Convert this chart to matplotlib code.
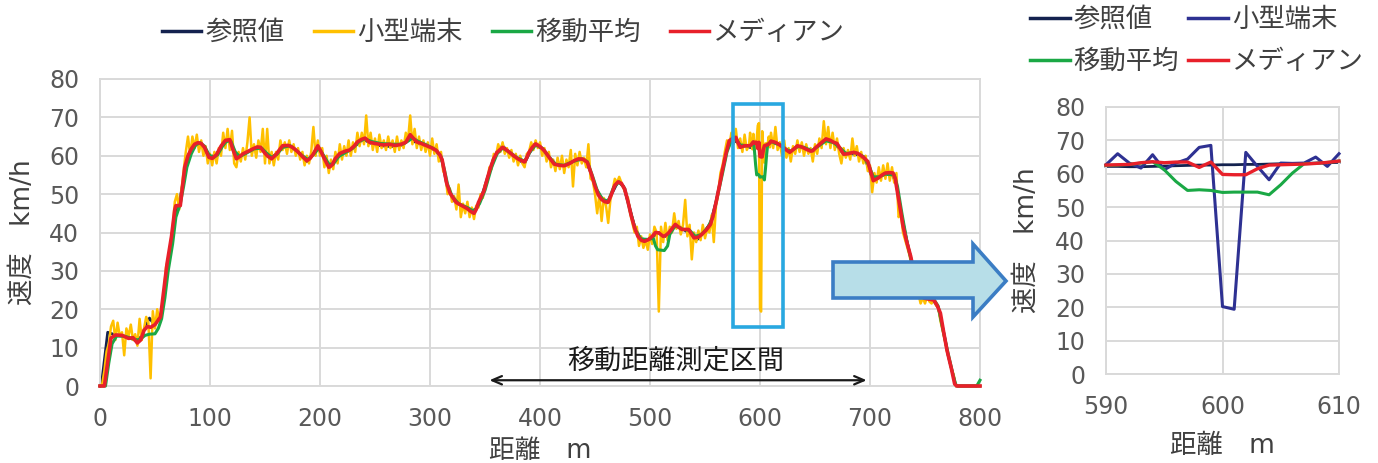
import matplotlib
matplotlib.use("Agg")
import matplotlib.pyplot as plt
import numpy as np
from matplotlib.patches import Polygon, Rectangle
from matplotlib.lines import Line2D

plt.rcParams['font.family'] = ['DejaVu Sans', 'Noto Sans CJK JP']

# ---------------------------------------------------------------------------
# Series labels
labels = ['参照値', '小型端末', '移動平均', 'メディアン']

# Detail window 590-610 m, 1 m sampling
zoom_dist = list(range(590, 611))
zoom_ref = [62.2, 62.2, 62.1, 62.1, 62.2, 62.3, 62.4, 62.5, 62.6, 62.6, 62.7,
            62.7, 62.8, 62.8, 62.9, 63.0, 63.0, 63.1, 63.2, 63.3, 63.4]
zoom_small = [62.7, 66.0, 63.2, 61.7, 65.7, 61.2, 63.2, 64.4, 67.9, 68.5, 20.2,
              19.4, 66.4, 62.2, 58.2, 63.2, 63.1, 63.2, 65.0, 62.2, 66.0]
zoom_ma = [62.5, 62.6, 62.8, 63.2, 63.6, 61.2, 57.7, 55.0, 55.2, 55.0, 54.4,
           54.5, 54.5, 54.5, 53.7, 56.7, 60.2, 63.0, 63.1, 63.4, 63.8]
zoom_median = [62.6, 62.7, 62.8, 63.3, 63.6, 63.3, 63.5, 63.5, 61.9, 63.5, 59.8,
               59.7, 59.7, 61.5, 62.6, 62.7, 62.8, 62.9, 63.1, 63.4, 63.8]

# Small-terminal speed, 2 m sampling, 0-588 m
small_head = [
    0, 0.5, 4, 9, 11, 15.5, 17, 12, 16.5, 13,
    14, 8, 15, 13, 16, 12, 13.5, 10.5, 17.5, 12,
    15, 18, 16.5, 2, 19.5, 15, 20, 17, 19, 24,
    31, 33, 37, 41, 48, 50, 46, 51, 56, 61,
    65, 60, 65, 62, 65.5, 61, 64, 60, 62.5, 58,
    60.5, 57.5, 61, 58, 62, 60, 66, 62, 67, 61.5,
    66.5, 58, 57, 61, 58.5, 62, 59, 63.5, 70, 60,
    63, 59.5, 64, 61, 67, 58, 67, 58, 61, 57.5,
    61, 59, 64, 61.5, 63.5, 60.5, 64, 61, 63, 60,
    62, 59, 61, 57.5, 60, 58, 61, 67.5, 60, 64,
    60, 62, 57, 60, 55.5, 59, 56.5, 61, 58, 63,
    59, 62.5, 60, 64, 60, 63.5, 61, 66, 62.5, 66,
    63, 70.5, 62.5, 66, 61.5, 64.5, 61, 65.5, 62, 64,
    61.5, 65, 62, 64, 61, 65, 61.5, 64, 62, 66,
    64, 70.5, 63, 67, 62, 65, 61.5, 64, 61, 63.5,
    60, 64.5, 60.5, 63, 58.5, 61, 56, 55, 50, 51.5,
    48, 49.5, 46, 52.5, 44, 47.5, 45, 48, 44, 46.5,
    43.5, 47, 46.5, 50, 49, 52.5, 53, 57, 56.5, 60.5,
    60, 63, 61, 63.5, 60.5, 62, 59.5, 61.5, 58.5, 60.5,
    57.5, 60, 58, 57, 60.5, 61, 63.5, 61.5, 64, 62,
    63.5, 60, 62, 58.5, 61, 57, 59, 56, 59.5, 56.5,
    60, 55.5, 59, 57, 61.5, 52, 60.5, 57.5, 61, 58,
    59.5, 57, 63, 54, 53.5, 50, 45, 50, 43, 49,
    47, 42.5, 48.5, 51, 54, 53, 54.5, 53, 51.5, 50,
    49, 45, 42.5, 40, 41.5, 36.5, 39, 36, 38, 35.5,
    39.5, 37, 41.5, 40, 19.4, 41.5, 37.5, 42.5, 38, 41.5,
    40, 45, 41, 43, 39.5, 42, 48.5, 39, 42, 33,
    40, 37.5, 40.5, 38, 42, 38.5, 41, 40, 44.5, 37.5,
    47, 50, 55.5, 57.5, 61, 64, 62.5, 66, 63, 67,
    62, 64.5, 61, 65.5, 61.5,
]
# Small-terminal speed, 2 m sampling, 612-800 m
small_tail = [
    62, 67.5, 61.5, 63.5, 60, 64, 59.5, 62, 58.5,
    62.5, 60.5, 64, 61, 63.5, 60, 63, 60.5, 62, 58.5,
    63, 60.5, 64.5, 62, 69, 63, 67.5, 62, 66, 61.5,
    64.5, 60.5, 58, 62, 59.5, 61.5, 59, 64.5, 60, 62.5,
    58.5, 61, 58, 60, 56, 57.5, 50.5, 55.5, 53, 57,
    53.5, 57.5, 54, 58, 53.5, 57, 53, 55.5, 44, 45,
    40, 38, 36, 34, 31, 30, 25.5, 24, 21.5, 23,
    21.5, 23.5, 22, 21.5, 23, 21, 20.5, 17, 14.5, 12,
    9, 7, 4.5, 3, 0, 0, 0, 0, 0, 0,
    0, 0, 0, 0, 0, 0,
]

# Reference speed (distance m, km/h)
ref_head = [
    (0, 0), (2, 2), (7, 14), (12, 13.5), (20, 13), (27, 12.5), (33, 11.8),
    (38, 13), (42, 16), (45, 17.7), (48, 16.5), (52, 17), (56, 19), (60, 28),
    (64, 36), (68, 45), (72, 47.5), (76, 54), (80, 60), (85, 62.5), (90, 63.2),
    (95, 62.3), (100, 59.5), (106, 60.5), (112, 63.2), (117, 64), (121, 61.5),
    (125, 59.5), (131, 60.6), (140, 61.8), (146, 62.2), (151, 60.5),
    (156, 59.4), (162, 61), (168, 62.5), (174, 62.4), (180, 61), (188, 58.5),
    (194, 60.5), (198, 62.4), (204, 59.5), (209, 57), (213, 58.5),
    (219, 60.5), (227, 61.4), (233, 62.8), (239, 64.3), (246, 63.3),
    (255, 62.6), (265, 62.4), (275, 62.8), (282, 64.5), (288, 63.3),
    (298, 62.5), (306, 61.2), (311, 58.5), (316, 51.5), (322, 48.2),
    (330, 46.8), (338, 45.6), (342, 46.2), (347, 49.5), (353, 55),
    (358, 59.5), (362, 61.6), (366, 62.6), (372, 60.8), (380, 59), (386, 58),
    (390, 60.5), (395, 63), (402, 61.8), (409, 59.3), (415, 57.6),
    (423, 57.5), (431, 58.6), (440, 59.2), (445, 56.5), (450, 52),
    (455, 49.3), (461, 47.7), (466, 50.5), (471, 53.3), (476, 52), (481, 47),
    (486, 41.5), (491, 38.5), (497, 38), (503, 39), (508, 40), (514, 39),
    (520, 41.2), (525, 41.8), (532, 40.5), (538, 39.5), (543, 38.2),
    (549, 40), (555, 42.5), (560, 48), (565, 55), (570, 62), (575, 64.4),
    (580, 63.3), (585, 62.6),
]
ref_tail = [
    (616, 63.2), (622, 62), (628, 61), (635, 62.5), (642, 61.8), (648, 61.4),
    (655, 63), (661, 64.2), (668, 63.2), (675, 60.8), (682, 60.6),
    (690, 60.2), (696, 58.8), (701, 55), (705, 53.8), (712, 55), (720, 55.3),
    (724, 52.5), (728, 45.5), (733, 38.5), (739, 31), (744, 25.5), (749, 23),
    (757, 22.5), (762, 20.5), (767, 14), (771, 8), (775, 3.5), (778, 0),
    (800, 0),
]

# Moving average (distance m, km/h)
ma_head = [
    (0, 0), (5, 0), (8, 6), (11, 11), (15, 13), (22, 13), (28, 12.5),
    (34, 12), (38, 12.5), (41, 13.2), (45, 13.5), (50, 13.6), (53, 15),
    (56, 17.5), (59, 23), (62, 30), (66, 37), (69, 44), (73, 47.5), (76, 52),
    (79, 57), (83, 60.5), (87, 62.8), (91, 63.4), (95, 62.5), (99, 60.3),
    (103, 59.5), (107, 60.3), (111, 62.3), (115, 63.8), (119, 63.8),
    (123, 61), (127, 59.8), (132, 60.5), (140, 61.8), (147, 62), (151, 60.8),
    (156, 59.6), (161, 60.4), (166, 62.2), (173, 62.6), (178, 61.5),
    (184, 60), (189, 59), (194, 60.3), (199, 62), (203, 60.2), (208, 57.8),
    (212, 57.8), (217, 59.8), (224, 61), (230, 62), (236, 63.8), (241, 64.4),
    (247, 63.7), (255, 63.2), (265, 63), (275, 63), (280, 63.8), (284, 64.6),
    (289, 63.8), (297, 62.8), (305, 61.6), (310, 59.8), (313, 56.5),
    (316, 52.5), (320, 49.5), (326, 47.5), (334, 46.5), (340, 45.5),
    (345, 47.5), (350, 51), (356, 57), (361, 60.5), (366, 62), (372, 61),
    (379, 59.5), (386, 58.6), (391, 61), (396, 62.8), (402, 62), (408, 59.8),
    (414, 57.8), (422, 57.5), (430, 58.5), (438, 59.2), (443, 58.5),
    (448, 54.5), (452, 51), (457, 48.6), (462, 48.2), (467, 51.8),
    (472, 53.2), (477, 51.5), (482, 45.5), (487, 40.5), (492, 38.3),
    (498, 38.2), (503, 38.5), (505, 36.5), (507, 35.5), (513, 35.3),
    (516, 36.5), (518, 39.5), (523, 41.8), (530, 40.8), (536, 40.6),
    (541, 39), (547, 39.5), (553, 41.5), (557, 44), (561, 49), (566, 55.5),
    (570, 61), (574, 64), (578, 64.5), (582, 62.8), (586, 62.7),
]
ma_tail = [
    (614, 63.2), (619, 62.8), (624, 61.6), (628, 61.2), (634, 62.4),
    (640, 62.2), (647, 61.3), (652, 62.3), (660, 63.9), (667, 63.4),
    (673, 62), (678, 60.6), (687, 60.8), (694, 59.8), (699, 57.5),
    (703, 54.5), (708, 54.5), (714, 55.2), (722, 55), (725, 52), (729, 45),
    (734, 37), (740, 29.5), (745, 25), (750, 23), (758, 22.6), (762, 20.8),
    (766, 15), (771, 8.5), (775, 3.5), (778, 0.3), (780, 0), (797, 0),
    (800, 1.5),
]

# Median filter (distance m, km/h)
median_head = [
    (0, 0), (4, 0), (10, 12.5), (14, 13.3), (20, 13.2), (26, 12.4),
    (30, 12.6), (34, 11.2), (37, 12), (40, 14.5), (43, 15.5), (46, 15.3),
    (50, 16), (52, 16.8), (55, 18), (58, 25), (61, 32), (65, 39), (68, 46),
    (69, 47), (73, 47), (75, 52), (77, 57), (80, 60), (83, 61.8), (86, 63),
    (89, 63.4), (92, 63.2), (95, 62.2), (99, 59.6), (102, 59.3),
    (106, 60.3), (110, 62.5), (114, 64), (118, 64.2), (121, 61.5),
    (124, 59.2), (127, 59.8), (130, 60.5), (135, 61.2), (139, 61.8),
    (143, 62.3), (146, 62.2), (149, 61), (152, 60), (156, 59.2), (160, 60.3),
    (163, 61.5), (166, 62.6), (171, 62.7), (175, 62.2), (180, 61),
    (184, 59.8), (188, 58.7), (191, 59.3), (194, 60.5), (198, 62.6),
    (201, 61), (204, 59.2), (208, 57), (211, 57.6), (214, 59.3), (218, 60.6),
    (223, 61.2), (227, 61.5), (231, 62.5), (234, 63.6), (238, 64.3),
    (241, 64.6), (245, 63.5), (250, 63.2), (254, 63), (258, 62.8), (263, 63),
    (268, 62.7), (273, 62.9), (278, 63.5), (282, 65.5), (285, 64.5),
    (288, 63.6), (292, 63.2), (297, 62.6), (302, 62), (306, 61.3),
    (309, 60.2), (311, 59), (313, 56), (315, 53), (318, 50.4), (321, 49),
    (324, 47.8), (329, 47), (334, 46.2), (337, 45.5), (340, 45), (342, 46),
    (344, 47.8), (349, 50.8), (352, 54), (355, 56.9), (358, 59.3),
    (361, 60.9), (366, 62.2), (371, 61.2), (376, 60), (381, 59), (386, 58.4),
    (388, 59.5), (390, 60.9), (393, 62.2), (396, 63.1), (400, 62.4),
    (404, 61.3), (408, 59.7), (413, 57.8), (418, 57.5), (422, 57.4),
    (427, 58), (431, 58.7), (435, 59.2), (439, 59.1), (443, 58.3), (447, 55),
    (450, 52.1), (453, 49.8), (456, 48.6), (459, 48), (462, 47.9), (465, 50),
    (468, 52.3), (471, 53.2), (474, 52.8), (477, 51.3), (480, 48),
    (483, 44.3), (486, 41.2), (489, 39), (492, 38), (495, 37.7), (499, 38.2),
    (502, 39), (505, 40), (508, 39.9), (512, 39), (514, 39.2), (517, 39.9),
    (520, 41), (523, 42.1), (526, 41.4), (529, 40.8), (535, 40.8),
    (538, 39.5), (540, 38.6), (544, 38.8), (547, 39.5), (551, 40.6),
    (555, 42.1), (557, 44), (560, 47.8), (563, 52), (566, 56.5), (569, 60.5),
    (572, 63.9), (575, 64.5), (578, 64.8), (580, 63.4), (582, 62.2),
    (586, 62.6),
]
median_tail = [
    (614, 63.5), (618, 62.8), (621, 62.2), (624, 61.5), (627, 60.9),
    (631, 61.8), (634, 62.6), (638, 62.3), (642, 61.7), (646, 61.2),
    (648, 61.3), (651, 62.2), (655, 63.2), (660, 64.4), (664, 64),
    (667, 63.5), (670, 63.2), (673, 61.8), (676, 60.4), (680, 60.5),
    (685, 60.9), (689, 60.6), (694, 59.6), (698, 58.5), (700, 56.5),
    (703, 53.5), (706, 54), (708, 54.3), (711, 55), (714, 55.5),
    (718, 55.6), (721, 55.5), (723, 54), (724, 52.1), (727, 47), (730, 41.7),
    (733, 38), (737, 33.8), (740, 29.5), (743, 25.9), (746, 24), (749, 22.9),
    (754, 22.6), (758, 22.4), (761, 21), (764, 19), (767, 14), (770, 9.3),
    (774, 4.5), (777, 0.5), (779, 0), (800, 0),
]

# ---------------------------------------------------------------------------
def join_pairs(head, zoom_vals, tail):
    d = [p[0] for p in head] + zoom_dist + [p[0] for p in tail]
    v = [p[1] for p in head] + zoom_vals + [p[1] for p in tail]
    return np.array(d, float), np.array(v, float)


ref_d, ref_v = join_pairs(ref_head, zoom_ref, ref_tail)
ma_d, ma_v = join_pairs(ma_head, zoom_ma, ma_tail)
med_d, med_v = join_pairs(median_head, zoom_median, median_tail)
small_d = np.concatenate([np.arange(0, 590, 2), zoom_dist, np.arange(612, 801, 2)])
small_v = np.array(small_head + zoom_small + small_tail, float)

C_REF = '#14224f'
C_SMALL = '#ffc000'
C_SMALL_ZOOM = '#2e3192'
C_MA = '#1aa845'
C_MED = '#e8202a'
GRID = '#d9d9d9'
TICK = '#595959'
TEXT = '#404040'

W, H = 1378, 463
fig = plt.figure(figsize=(W / 100, H / 100), dpi=100)
ax = fig.add_axes([100 / W, 77 / H, 880 / W, 307 / H])
ax2 = fig.add_axes([1106 / W, 89 / H, 233 / W, 267 / H])


def style_axes(a, xticks):
    a.set_ylim(0, 80)
    a.set_yticks(np.arange(0, 81, 10))
    a.set_xticks(xticks)
    a.set_xlim(xticks[0], xticks[-1])
    a.grid(True, color=GRID, lw=1.4, zorder=0)
    a.set_axisbelow(True)
    for s in a.spines.values():
        s.set_color(GRID)
        s.set_linewidth(1.4)
    a.tick_params(length=0, labelsize=17, labelcolor=TICK, pad=15)


# Full run
ax.plot(ref_d, ref_v, color=C_REF, lw=2.0, zorder=2, clip_on=False)
ax.plot(small_d, small_v, color=C_SMALL, lw=1.8, zorder=3, clip_on=False)
ax.plot(ma_d, ma_v, color=C_MA, lw=2.2, zorder=4, clip_on=False)
ax.plot(med_d, med_v, color=C_MED, lw=2.6, zorder=5, clip_on=False)
style_axes(ax, np.arange(0, 801, 100))
ax.set_ylabel('速度　km/h', fontsize=19, color=TEXT)
ax.yaxis.set_label_coords(-0.073, 0.5)
ax.set_xlabel('距離　m', fontsize=18.5, color=TEXT, va='top')
ax.xaxis.set_label_coords(0.5, -0.168)

# Highlight box around the dropout
ax.add_patch(Rectangle((575.5, 15.4), 45.5, 58, fill=False, ec='#29a8e0',
                       lw=2.6, zorder=6, clip_on=False))
# Measurement interval
ax.annotate('', xy=(354, 1.5), xytext=(697, 1.5),
            arrowprops=dict(arrowstyle='<->,head_length=0.7,head_width=0.3',
                            color='#1a1a1a', lw=1.6, shrinkA=0, shrinkB=0),
            zorder=6)
ax.text(523, 6.3, '移動距離測定区間', fontsize=19.5, color='#1a1a1a',
        ha='center', va='center', zorder=6)

# Detail window
ax2.plot(zoom_dist, zoom_ref, color=C_REF, lw=2.0, zorder=2, clip_on=False)
ax2.plot(zoom_dist, zoom_small, color=C_SMALL_ZOOM, lw=2.2, zorder=3, clip_on=False)
ax2.plot(zoom_dist, zoom_ma, color=C_MA, lw=2.2, zorder=4, clip_on=False)
ax2.plot(zoom_dist, zoom_median, color=C_MED, lw=2.4, zorder=5, clip_on=False)
style_axes(ax2, [590, 600, 610])
ax2.set_ylabel('速度　km/h', fontsize=19, color=TEXT)
ax2.yaxis.set_label_coords(-0.285, 0.5)
ax2.set_xlabel('距離　m', fontsize=19, color=TEXT, va='top')
ax2.xaxis.set_label_coords(0.5, -0.22)

# Legends
def handles(colors):
    return [Line2D([], [], color=c, lw=2.5) for c in colors]


fig.legend(handles([C_REF, C_SMALL, C_MA, C_MED]), labels, loc='center',
           bbox_to_anchor=(503.5 / W, 1 - 33 / H), ncol=4, frameon=False,
           fontsize=19, labelcolor=TEXT, handlelength=1.5, handletextpad=0.15,
           columnspacing=1.1, borderpad=0)
# two columns, filled row by row
order = [0, 2, 1, 3]
zoom_colors = [C_REF, C_SMALL_ZOOM, C_MA, C_MED]
fig.legend(handles([zoom_colors[i] for i in order]), [labels[i] for i in order],
           loc='center', bbox_to_anchor=(1197 / W, 1 - 41 / H), ncol=2,
           frameon=False, fontsize=19, labelcolor=TEXT, handlelength=1.5,
           handletextpad=0.15, columnspacing=0.35, labelspacing=0.6,
           borderpad=0)

# Block arrow pointing to the detail window
arrow_px = [(833, 262), (973, 262), (973, 244), (1006, 281), (973, 317),
            (973, 298), (833, 298)]
arrow_fig = [(x / W, 1 - y / H) for x, y in arrow_px]
fig.add_artist(Polygon(arrow_fig, closed=True, transform=fig.transFigure,
                       fc='#b7dee8', ec='#3b7dc4', lw=2.6, zorder=10))

fig.savefig('out.png', dpi=100)
